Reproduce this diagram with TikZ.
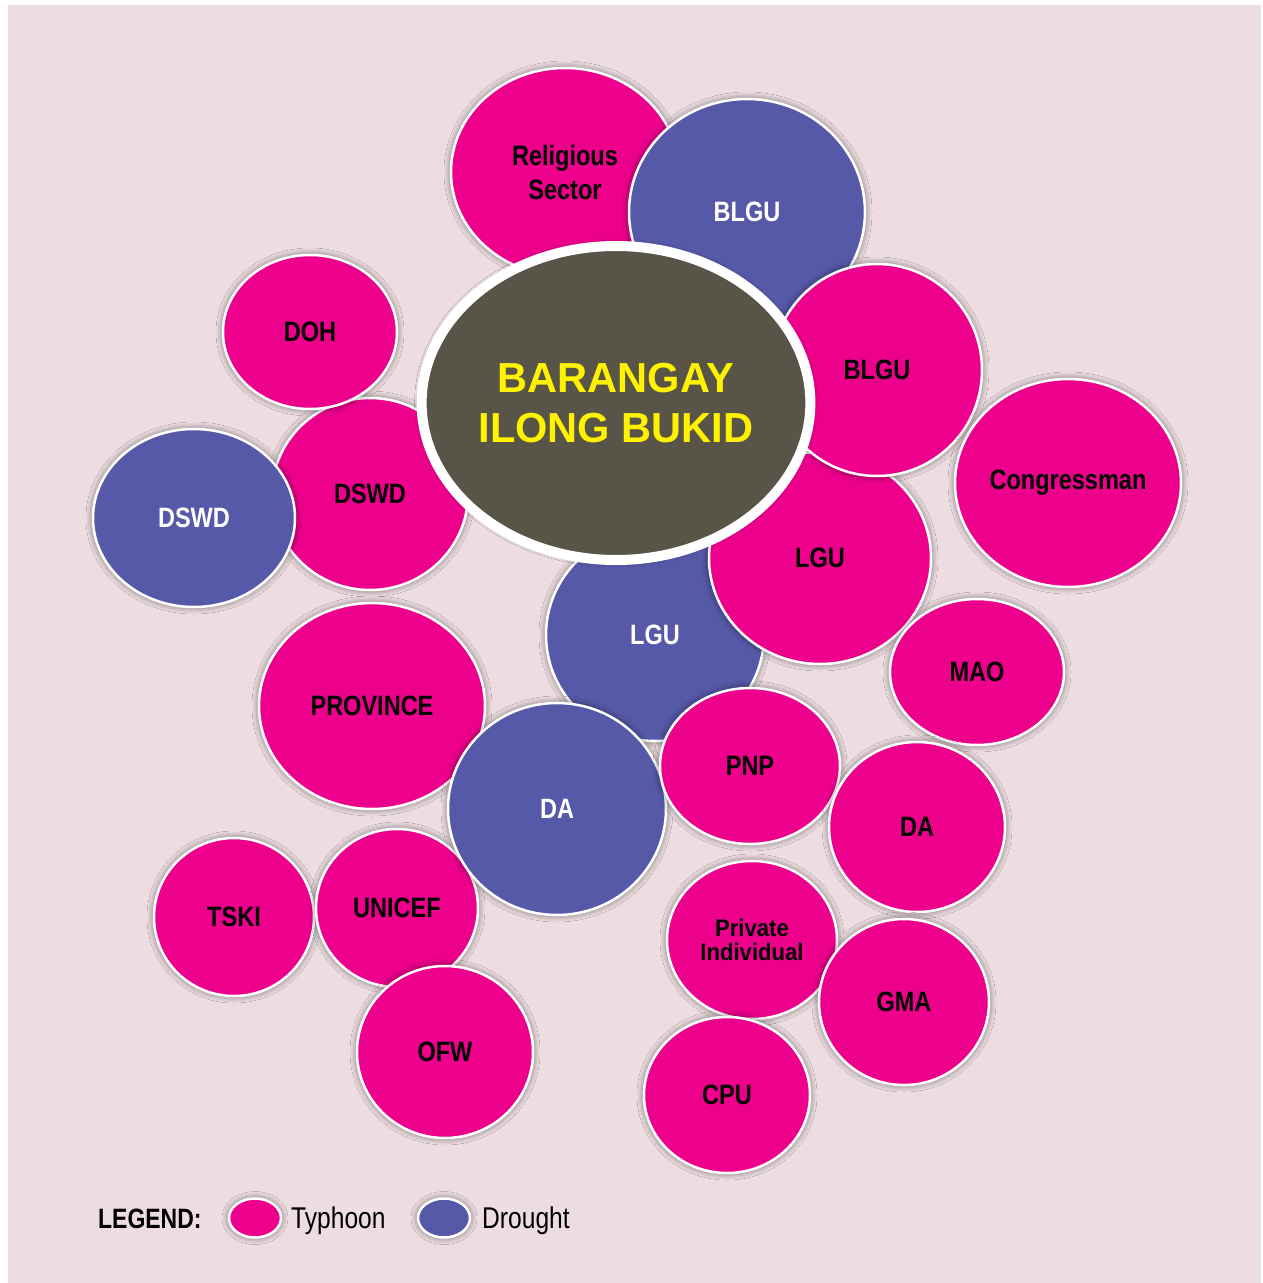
\documentclass[tikz,border=0pt]{standalone}
\usepackage{fontspec}
\usetikzlibrary{shapes.geometric,shadows.blur}
\newfontfamily\condfont[FakeStretch=0.84]{Liberation Sans}
\newfontfamily\smallcondfont[FakeStretch=0.92]{Liberation Sans}
\newfontfamily\keyfont[FakeStretch=0.82]{Liberation Sans}
\newfontfamily\corefont[FakeStretch=0.99]{Liberation Sans}
\definecolor{typh}{HTML}{EC008C}
\definecolor{drou}{HTML}{5659A8}
\definecolor{core}{HTML}{585448}
\definecolor{bg}{HTML}{EDDDE1}
\definecolor{gold}{HTML}{FFF200}
\begin{document}
\begin{tikzpicture}[x=1pt,y=-1pt,
  sz/.style 2 args={minimum width={2*#1pt-2pt}, minimum height={2*#2pt-2pt}},
  softshadow/.style={blur shadow={shadow xshift=0pt, shadow yshift=0pt,
      shadow opacity=55, shadow blur radius=7pt, shadow blur steps=16}},
  bubble/.style={ellipse, draw=white, line width=2.5pt, inner sep=0pt,
      align=center, softshadow,
      font=\condfont\bfseries\fontsize{28}{34}\selectfont},
  typhoon/.style={bubble, fill=typh, text=black},
  drought/.style={bubble, fill=drou, text=white},
  keytext/.style={anchor=base west, inner sep=0pt,
      font=\keyfont\fontsize{30}{36}\selectfont}
]
\useasboundingbox (0,0) rectangle (1262,1283);
\fill[white] (0,0) rectangle (1262,1283);
\fill[bg] (8,5) rectangle (1261,1283);

% outer ring of actors, back to front
\node[typhoon, sz={115}{105}] (relig) at (565,172) {Religious\\Sector};
\node[drought, sz={119}{114}] (blgud) at (747,212) {BLGU};
\node[drought, sz={110}{107}] (lgud) at (655,635) {LGU};
\node[typhoon, sz={112}{107}] (lgut) at (820,558) {LGU};
\node[typhoon, sz={106}{107}] (blgut) at (877,370) {BLGU};
\node[typhoon, sz={99}{97}] (dswdt) at (370,494) {DSWD};
\node[typhoon, sz={88}{78}] (doh) at (310,332) {DOH};
\node[drought, sz={102}{90}] (dswdd) at (194,518) {DSWD};
\node[typhoon, sz={114}{104}] (prov) at (372,706) {PROVINCE};
\node[typhoon, sz={81}{80}] (tski) at (234,917) {TSKI};
\node[typhoon, sz={82}{80}] (unicef) at (397,908) {UNICEF};
\node[drought, sz={110}{107}] (dad) at (557,809) {DA};
\node[typhoon, sz={89}{87}] (ofw) at (445,1052) {OFW};
\node[typhoon, sz={91}{79}] (pnp) at (750,766) {PNP};
\node[typhoon, sz={114}{105}] (congress) at (1068,483) {Congressman};
\node[typhoon, sz={88}{74}] (mao) at (977,672) {MAO};
\node[typhoon, sz={89}{86}] (dat) at (917,827) {DA};
\node[typhoon, sz={86}{80},
      font=\smallcondfont\bfseries\fontsize{24}{24}\selectfont] (priv) at (752,940) {Private\\Individual};
\node[typhoon, sz={86}{84}] (gma) at (904,1002) {GMA};
\node[typhoon, sz={84}{79}] (cpu) at (727,1095) {CPU};

% the barangay at the centre
\node[ellipse, draw=white, line width=10pt, fill=core, inner sep=0pt,
      minimum width=368pt, minimum height=314pt, softshadow,
      align=center, text=gold,
      font=\corefont\bfseries\fontsize{42}{50}\selectfont] (brgy) at (616,403)
      {BARANGAY\\ILONG BUKID};

% legend
\node[anchor=base west, inner sep=0pt,
      font=\keyfont\bfseries\fontsize{28}{34}\selectfont] (legend) at (98,1228) {LEGEND:};
\node[ellipse, draw=white, line width=2.5pt, fill=typh, softshadow,
      minimum width=52pt, minimum height=39pt, inner sep=0pt] (keyt) at (255,1218) {};
\node[keytext] (keyttext) at (291,1228) {Typhoon};
\node[ellipse, draw=white, line width=2.5pt, fill=drou, softshadow,
      minimum width=52pt, minimum height=39pt, inner sep=0pt] (keyd) at (444,1218) {};
\node[keytext] (keydtext) at (482,1228) {Drought};
\end{tikzpicture}
\end{document}
